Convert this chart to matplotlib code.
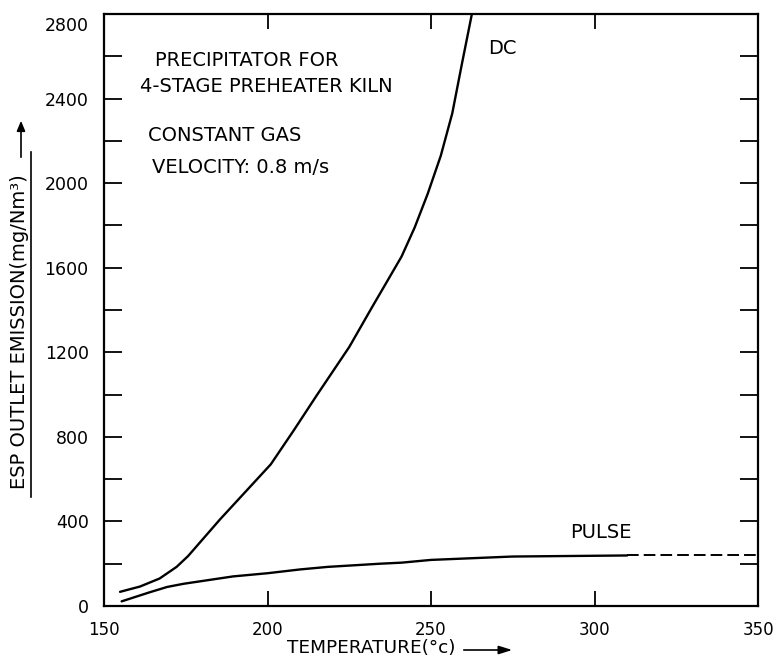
import matplotlib
matplotlib.use("Agg")
import matplotlib.pyplot as plt
import matplotlib.transforms as mtransforms
from matplotlib.lines import Line2D
from matplotlib.patches import FancyArrowPatch
from matplotlib.ticker import FuncFormatter

# ---- data ----
dc_temp = [154.9, 161, 167, 172.2, 175.7, 185.5, 201, 208, 215, 225, 232, 236.6, 241, 245, 249, 253, 256.5, 259.4, 262.5]
dc_emis = [67, 92, 130, 185, 236, 410, 670, 830, 995, 1225, 1414, 1536, 1653, 1790, 1950, 2130, 2330, 2560, 2800]

pulse_temp = [155.4, 164, 169.3, 174.3, 189.5, 200, 210, 218.4, 234.4, 241, 250, 275, 310]
pulse_emis = [22, 65, 90, 105, 140, 155, 173, 185, 200, 205, 218, 234, 239]

pulse_ext_temp = [310, 350]
pulse_ext_emis = [239, 239]

x_ticks = [150, 200, 250, 300, 350]
y_ticks = list(range(0, 2801, 200))

FONT = "DejaVu Sans"
plt.rcParams['font.family'] = [FONT]

fig = plt.figure(figsize=(7.75, 6.59), dpi=100)
ax = fig.add_axes([104/775, 1-606/659, (758-104)/775, (606-14)/659])

lw = 1.7
ax.plot(dc_temp, dc_emis, color="black", lw=lw, solid_capstyle="round")
ax.plot(pulse_temp, pulse_emis, color="black", lw=lw, solid_capstyle="round")
ax.plot(pulse_ext_temp, pulse_ext_emis, color="black", lw=1.4, dashes=(6, 2.6))

ax.set_xlim(150, 350)
ax.set_ylim(0, 2800)
ax.set_xticks(x_ticks)
ax.set_yticks(y_ticks)
ax.yaxis.set_major_formatter(FuncFormatter(lambda v, p: f"{int(v)}" if int(v) % 400 == 0 else ""))

for s in ax.spines.values():
    s.set_linewidth(1.6)

ax.tick_params(axis="x", direction="in", length=10.5, width=1.3, top=True, bottom=True,
               labelsize=12, pad=11)
ax.tick_params(axis="y", direction="in", length=13, width=1.3, left=True, right=True,
               labelsize=12.5, pad=11)

# the top label (2800) sits a little below its tick in the reference
fig.canvas.draw()
for lab in ax.get_yticklabels():
    if lab.get_text() == "2800":
        lab.set_transform(lab.get_transform() +
                          mtransforms.ScaledTranslation(0, -10/100, fig.dpi_scale_trans))

# annotations
tfs = 14
ax.text(165.6, 2582, "PRECIPITATOR FOR", fontsize=tfs, ha="left", va="center")
ax.text(161.0, 2455, "4-STAGE PREHEATER KILN", fontsize=tfs, ha="left", va="center")
ax.text(163.5, 2223, "CONSTANT GAS", fontsize=tfs, ha="left", va="center")
ax.text(164.7, 2076, "VELOCITY: 0.8 m/s", fontsize=tfs, ha="left", va="center")
ax.text(267.4, 2639, "DC", fontsize=tfs, ha="left", va="center")
ax.text(292.5, 348, "PULSE", fontsize=tfs, ha="left", va="center")

# axis labels
ax.set_xlabel("TEMPERATURE(°c)", fontsize=13.3)
ax.xaxis.set_label_coords((371-104)/654, (606-639)/592)
ax.set_ylabel("ESP OUTLET EMISSION(mg/Nm³)", fontsize=14, va="center", ha="center")
ax.yaxis.set_label_coords((19-104)/654, (606-332)/592)

# underline of y label and arrows
W, H = 775, 659
fig.add_artist(Line2D([31/W, 31/W], [1-152/H, 1-497/H], color="black", lw=1.2,
                      transform=fig.transFigure))
fig.add_artist(FancyArrowPatch(
    (21/W, 1-160/H), (21/W, 1-118/H), transform=fig.transFigure,
    arrowstyle="-|>,head_length=6,head_width=2.5", color="black", lw=1.2))
fig.add_artist(FancyArrowPatch(
    (461/W, 1-650/H), (515/W, 1-650/H), transform=fig.transFigure,
    arrowstyle="-|>,head_length=8,head_width=2.5", color="black", lw=1.2))

fig.savefig("out.png", dpi=100)
